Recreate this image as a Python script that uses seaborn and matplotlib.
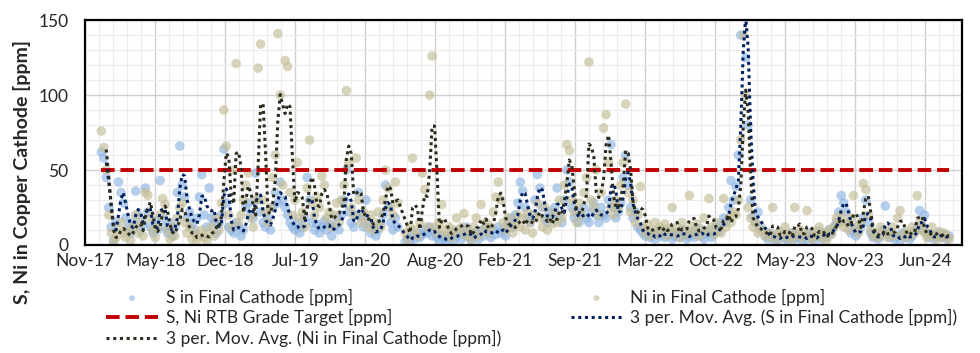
import numpy as np
import pandas as pd
import matplotlib
matplotlib.use('Agg')
import matplotlib.pyplot as plt
import matplotlib.dates as mdates
from matplotlib import font_manager
from matplotlib.ticker import FixedLocator, MultipleLocator
import seaborn as sns

# weekly samples, first one in late Dec 2017
first_sample = '2017-12-26'
axis_start = '2017-11-10'
axis_days = 2506
target_ppm = 50

s_ppm = [
    62, 58, 45, 25, 12, 3, 15, 42, 35, 28,
    18, 12, 8, 15, 36, 20, 10, 14, 38, 22,
    12, 8, 16, 10, 43, 18, 12, 8, 15, 6,
    12, 35, 66, 40, 32, 18, 22, 14, 10, 18,
    32, 47, 20, 12, 38, 18, 15, 8, 14, 20,
    64, 28, 12, 10, 8, 15, 12, 6, 10, 25,
    28, 20, 18, 48, 30, 22, 15, 12, 18, 10,
    25, 35, 28, 42, 30, 25, 20, 15, 12, 10,
    15, 8, 12, 18, 45, 30, 15, 10, 14, 8,
    12, 16, 10, 14, 6, 12, 18, 10, 20, 30,
    50, 22, 15, 12, 20, 35, 18, 12, 30, 15,
    8, 12, 6, 10, 14, 20, 40, 25, 15, 10,
    18, 12, np.nan, np.nan, 2, 5, 3, 6, 4, 8,
    5, 7, 10, 8, 12, 6, 9, 5, 3, 6,
    4, 1, 5, 8, 3, 6, 10, 4, 7, 12,
    5, 3, 6, 8, 4, 10, 6, 12, 8, 5,
    10, 7, 12, 8, 10, 6, 14, 18, 12, 20,
    28, 42, 36, 25, 18, 15, 20, 30, 47, 38,
    25, 18, 15, 22, 18, 25, 38, 20, 15, 30,
    50, 42, 25, 18, 22, 15, 20, 25, 18, 15,
    22, 28, 20, 15, 25, 20, 18, 30, 67, 25,
    18, 22, 28, 45, 60, 40, 25, 18, 22, 12,
    10, 8, 6, 9, 5, 7, 4, 8, 6, 10,
    5, 7, 9, 4, 6, 8, 5, 10, 7, 4,
    6, 9, 5, 7, 11, 6, 4, 8, 10, 5,
    7, 12, 9, 14, 18, 15, 25, 43, 30, 39,
    60, 140, 190, 125, 80, 30, 19, 15, 22, 12,
    np.nan, 6, 4, 8, 5, 3, 6, 4, 7, 5,
    3, 6, 8, 4, 5, 7, 3, 6, 4, 8,
    5, 3, 6, 9, 4, 7, 5, 10, 8, 12,
    15, 22, 33, 28, 22, 15, 8, 10, 6, 9,
    12, 18, 30, 15, 8, 5, 7, 4, 6, 10,
    26, 8, 5, 7, 4, 6, 3, 8, 5, 7,
    4, 6, 9, 12, 23, 10, 20, 8, 5, 7,
    4, 6, 8, 5, 7, 4, 6,
]

ni_ppm = [
    76, 65, 50, 20, 8, 2, 5, 10, 15, 8,
    5, 10, 3, 12, 20, 8, 15, 6, 35, 33,
    18, 10, 5, 12, 20, 31, 27, 10, 4, 12,
    6, 18, 25, 28, 15, 8, 12, 4, 8, 3,
    6, 10, 5, 3, 8, 12, 6, 18, 10, 28,
    90, 66, 20, 12, 50, 121, 15, 20, 30, 40,
    48, 18, 12, 30, 118, 134, 30, 22, 15, 25,
    45, 60, 141, 100, 40, 123, 119, 35, 20, 30,
    55, 18, 22, 12, 38, 70, 28, 20, 32, 25,
    46, 40, 18, 22, 12, 20, 28, 15, 30, 40,
    103, 55, 25, 20, 58, 30, 15, 22, 18, 12,
    20, 10, 15, 22, 12, 30, 50, 38, 25, 20,
    42, 28, np.nan, np.nan, 8, 4, 12, 58, 10, 6,
    15, 48, 37, 12, 100, 126, 12, 8, 15, 27,
    10, 6, 12, 5, 10, 18, 8, 12, 21, 6,
    10, 4, 12, 18, 6, 27, 10, 15, 8, 12,
    22, 32, 42, 30, 15, 10, 18, 12, 8, 15,
    20, 12, 18, 10, 22, 15, 8, 20, 28, 18,
    12, 25, 10, 18, 14, 22, 15, 30, 18, 40,
    67, 63, 30, 22, 15, 28, 20, 35, 45, 122,
    30, 25, 50, 20, 35, 78, 87, 55, 25, 20,
    30, 25, 40, 55, 94, 35, 22, 30, 15, 20,
    39, 12, 8, 14, 6, 10, 15, 7, 12, 9,
    14, 6, 11, 25, 8, 12, 5, 15, 10, 7,
    33, 12, 8, 14, 6, 10, 18, 9, 31, 12,
    7, 15, 10, 8, 31, 12, 18, 15, 22, 20,
    30, 70, 140, 100, 25, 18, 12, 15, 8, 10,
    np.nan, 6, 8, 5, 25, 7, 4, 9, 6, 12,
    5, 8, 4, 25, 7, 10, 5, 8, 23, 6,
    4, 9, 6, 12, 5, 8, 3, 10, 7, 12,
    18, 15, 20, 12, 15, 10, 18, 33, 12, 8,
    15, 41, 37, 20, 10, 6, 8, 5, 12, 7,
    10, 5, 8, 12, 6, 18, 23, 7, 5, 9,
    6, 12, 8, 33, 15, 10, 8, 5, 7, 12,
    6, 4, 9, 5, 8, 6, 4,
]

df = pd.DataFrame({
    'date': pd.date_range(first_sample, periods=len(s_ppm), freq='7D'),
    'S': s_ppm,
    'Ni': ni_ppm,
})
df['S_ma'] = df['S'].rolling(3).mean()
df['Ni_ma'] = df['Ni'].rolling(3).mean()
df['target'] = target_ppm

installed = {f.name for f in font_manager.fontManager.ttflist}
base_font = next((n for n in ['Lato', 'Liberation Sans'] if n in installed), 'DejaVu Sans')

sns.set_style('white')
plt.rcParams['font.family'] = [base_font, 'DejaVu Sans']

fig = plt.figure(figsize=(9.8, 3.53), dpi=100)
ax = fig.add_axes([0.087, 0.306, 0.895, 0.637])

sns.scatterplot(data=df, x='date', y='S', ax=ax, color='#8EB4E3', alpha=0.65,
                s=48, edgecolor='none', label='S in Final Cathode [ppm]', zorder=2)
sns.scatterplot(data=df, x='date', y='Ni', ax=ax, color='#C4BD97', alpha=0.65,
                s=48, edgecolor='none', label='Ni in Final Cathode [ppm]', zorder=2)
sns.lineplot(data=df, x='date', y='target', ax=ax, color='#C00000', lw=2.8,
             linestyle=(0, (3.5, 1.5)), label='S, Ni RTB Grade Target [ppm]', zorder=3)
sns.lineplot(data=df, x='date', y='S_ma', ax=ax, color='#002060', lw=2.2,
             linestyle=(0, (1, 1.2)), label='3 per. Mov. Avg. (S in Final Cathode [ppm])', zorder=4)
sns.lineplot(data=df, x='date', y='Ni_ma', ax=ax, color='#2B2B1E', lw=2.2,
             linestyle=(0, (1, 1.2)), label='3 per. Mov. Avg. (Ni in Final Cathode [ppm])', zorder=5)

x0 = pd.Timestamp(axis_start)
x1 = x0 + pd.Timedelta(days=axis_days)
ax.set_xlim(x0, x1)
ax.set_ylim(0, 150)
ax.xaxis.set_major_locator(FixedLocator(mdates.date2num(pd.date_range(x0, x1, freq='200D'))))
ax.xaxis.set_minor_locator(FixedLocator(mdates.date2num(pd.date_range(x0, x1, freq='40D'))))
ax.xaxis.set_major_formatter(mdates.DateFormatter('%b-%y'))
ax.yaxis.set_major_locator(FixedLocator([0, 50, 100, 150]))
ax.yaxis.set_minor_locator(MultipleLocator(10))

ax.grid(which='major', color='#CFCFCF', lw=1.0)
ax.grid(which='minor', color='#ECECEC', lw=0.8)
ax.set_axisbelow(True)
for sp in ax.spines.values():
    sp.set_visible(True)
    sp.set_color('black')
    sp.set_linewidth(1.6)

ax.tick_params(which='both', length=0, labelsize=12.5)
ax.tick_params(axis='y', pad=12)
ax.tick_params(axis='x', pad=6)
ax.set_xlabel('')
ax.set_ylabel('')
fig.text(0.022, 0.513, 'S, Ni in Copper Cathode [ppm]', rotation=90, fontsize=14,
         fontweight='bold', ha='center', va='center')

h, l = ax.get_legend_handles_labels()
order = [0, 2, 4, 1, 3]
ax.legend([h[i] for i in order], [l[i] for i in order], ncol=2, frameon=False,
          loc='upper left', bbox_to_anchor=(0.101, 0.202), bbox_transform=fig.transFigure,
          fontsize=12.5, handlelength=3.0, columnspacing=4.0, labelspacing=0.2,
          handletextpad=0.45, borderaxespad=0, markerscale=0.6)

fig.savefig('out.png', dpi=100)
